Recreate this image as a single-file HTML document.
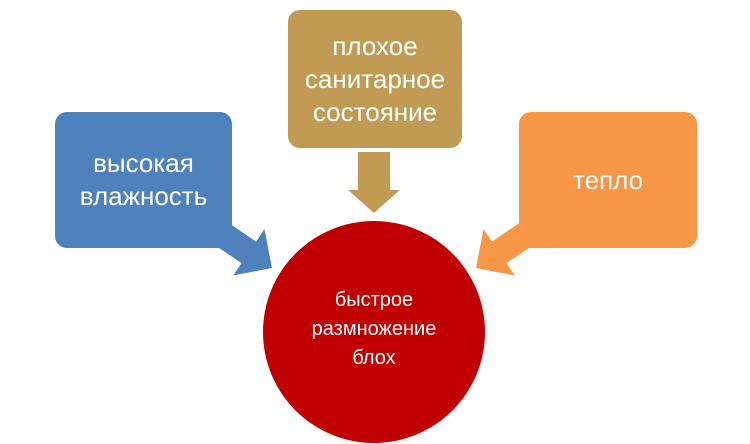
<!DOCTYPE html>
<html><head><meta charset="utf-8"><style>
body{margin:0;width:750px;height:444px;background:#fff;overflow:hidden;font-family:"Liberation Sans","DejaVu Sans",sans-serif}
.b{position:absolute;border-radius:12px;color:#fff;display:flex;align-items:center;justify-content:center;text-align:center;font-size:26px;line-height:33px}
</style></head><body>
<svg width="750" height="444" style="position:absolute;left:0;top:0">
<polygon points="358,152 390,152 390,190 400,190 374,213 348,190 358,190" fill="#c19b53"/>
<g transform="translate(272,268) rotate(34)"><polygon points="0,0 -28,-28 -28,-13 -62,-13 -62,13 -28,13 -28,28" fill="#4f81bd"/></g>
<g transform="translate(476,268) rotate(146)"><polygon points="0,0 -28,-28 -28,-13 -62,-13 -62,13 -28,13 -28,28" fill="#f79646"/></g>
<circle cx="374" cy="332" r="111" fill="#c00000"/>
</svg>
<div class="b" style="left:288px;top:10px;width:174px;height:138px;background:#c19b53">плохое<br>санитарное<br>состояние</div>
<div class="b" style="left:55px;top:112px;width:177px;height:136px;background:#4f81bd">высокая<br>влажность</div>
<div class="b" style="left:519px;top:112px;width:178px;height:136px;background:#f79646">тепло</div>
<div class="b" style="left:274px;top:274px;width:200px;height:110px;font-size:20px;line-height:29px;background:none">быстрое<br>размножение<br>блох</div>
</body></html>
